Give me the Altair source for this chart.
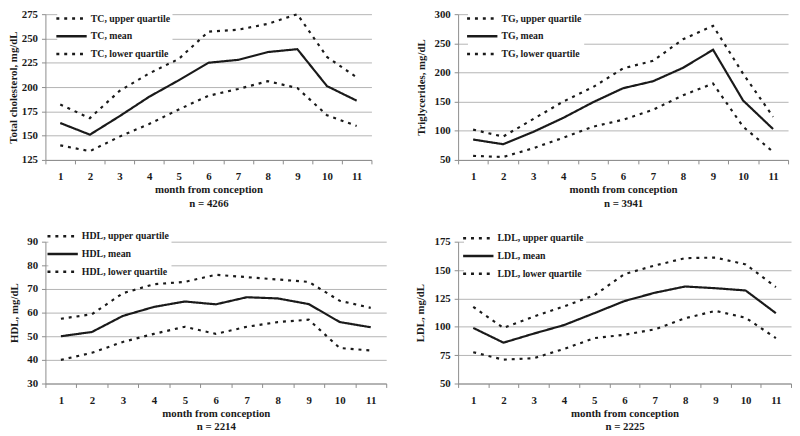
import altair as alt
import pandas as pd

months = list(range(1, 12))

tc_mean = [163, 151, 170, 190, 207, 225, 228, 236, 239, 201, 186]
tc_upper = [182, 168, 196, 214, 229, 257, 259, 265, 275, 231, 210]
tc_lower = [140, 134, 149, 162, 177, 191, 198, 206, 199, 171, 160]

tg_mean = [85, 77, 98, 122, 149, 173, 185, 208, 239, 152, 103]
tg_upper = [102, 90, 120, 150, 175, 207, 220, 257, 280, 198, 124]
tg_lower = [57, 55, 70, 88, 107, 119, 136, 161, 181, 107, 64]

hdl_mean = [50, 51.8, 58.6, 62.4, 64.7, 63.5, 66.5, 66, 63.6, 56, 53.8]
hdl_upper = [57.4, 59.3, 68.2, 72, 73, 76, 75, 74, 73, 65, 62]
hdl_lower = [40, 43, 47.6, 51, 54, 51, 54, 56, 57, 45, 44]

ldl_mean = [99, 86, 94, 101.5, 112, 122.7, 130, 135.5, 134, 132, 112]
ldl_upper = [117.6, 99, 109, 118, 127.7, 146.5, 154, 160.5, 161, 155, 135]
ldl_lower = [77.6, 71, 72.3, 80.5, 90, 93, 97.7, 107.5, 114, 108, 90]

FONT = "Liberation Serif"
INK = "#1a1a1a"
GRID = "#b4b4b4"
AXC = "#8c8c8c"


def axis_style(**kw):
    base = dict(
        labelFont=FONT, labelFontWeight="bold", labelFontSize=11, labelColor=INK,
        titleFont=FONT, titleFontWeight="bold", titleFontSize=11, titleColor=INK,
        domainColor=AXC, tickColor=AXC, tickSize=4, labelPadding=4,
    )
    base.update(kw)
    return alt.Axis(**base)


def panel(prefix, ylabel, n, mean, upper, lower, ydomain, ystep, width, height, tx, lx, ly):
    names = [f"{prefix}, upper quartile", f"{prefix}, mean", f"{prefix}, lower quartile"]
    rows = []
    for name, vals in zip(names, [upper, mean, lower]):
        for m, v in zip(months, vals):
            rows.append({"month": m, "value": v, "series": name})
    df = pd.DataFrame(rows)
    ticks = list(range(ydomain[0], ydomain[1] + 1, ystep))
    return (
        alt.Chart(df)
        .mark_line(color=INK, strokeWidth=2.2)
        .encode(
            x=alt.X(
                "month:O",
                scale=alt.Scale(type="band", paddingInner=0, paddingOuter=0),
                axis=axis_style(
                    tickBand="extent",
                    labelAngle=0,
                    grid=False,
                    labelPadding=7,
                    title=["month from conception", f"n = {n}"],
                    titlePadding=2,
                    titleLineHeight=14,
                ),
            ),
            y=alt.Y(
                "value:Q",
                scale=alt.Scale(domain=ydomain, nice=False, zero=False),
                axis=axis_style(values=ticks, title=ylabel, titleX=tx, titleY=height / 2,
                                grid=True, gridColor=GRID, gridWidth=1),
            ),
            strokeDash=alt.StrokeDash(
                "series:N",
                scale=alt.Scale(domain=names, range=[[3, 5], [1, 0], [3, 5]]),
                legend=alt.Legend(
                    orient="none",
                    legendX=lx,
                    legendY=ly,
                    title=None,
                    symbolType="M-1.4,0H1.4",
                    symbolSize=484,
                    symbolStrokeWidth=2.5,
                    symbolStrokeColor=INK,
                    labelFont=FONT,
                    labelFontWeight="bold",
                    labelFontSize=10,
                    labelColor=INK,
                    labelOffset=7,
                    fillColor="white",
                    padding=2,
                    rowPadding=0,
                ),
            ),
        )
        .properties(width=width, height=height)
    )


p1 = panel("TC", "Total cholesterol, mg/dL", 4266, tc_mean, tc_upper, tc_lower, (125, 275), 25, 331, 148, -27, 12, -10)
p2 = panel("TG", "Triglycerides, mg/dL", 3941, tg_mean, tg_upper, tg_lower, (50, 300), 50, 335, 148, -32, 10, -10)
p3 = panel("HDL", "HDL, mg/dL", 2214, hdl_mean, hdl_upper, hdl_lower, (30, 90), 10, 346, 144, -26, 3, -20)
p4 = panel("LDL", "LDL, mg/dL", 2225, ldl_mean, ldl_upper, ldl_lower, (50, 175), 25, 338, 144, -33, 6, -18)

chart = (
    alt.concat(p1, p2, p3, p4, columns=2, spacing={"row": 83, "column": 73}, bounds="flush")
    .resolve_scale(strokeDash="independent")
    .resolve_legend(strokeDash="independent")
    .properties(padding={"left": -1, "top": -7, "right": 0, "bottom": 0})
    .configure_view(stroke=None)
)

chart.save("out.html", embed_options={"renderer": "svg", "actions": False})
